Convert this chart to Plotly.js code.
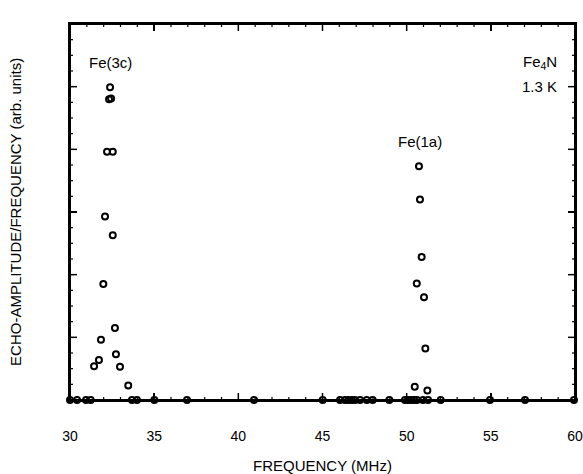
<!DOCTYPE html>
<html>
<head>
<meta charset="utf-8">
<script src="https://cdn.plot.ly/plotly-3.0.1.min.js"></script>
<style>html,body{margin:0;padding:0;background:#fff;overflow:hidden;}#chart{width:583px;height:474px;}</style>
</head>
<body>
<div id="chart"></div>
<script>
// Fe(3c) line points
const fe3cFreq = [32.38, 32.32, 32.44, 32.20, 32.54, 32.08, 32.54, 31.98, 32.67, 31.84, 31.72, 31.43, 32.73, 32.97, 33.46];
const fe3cAmp  = [4.99, 4.80, 4.81, 3.96, 3.96, 2.93, 2.63, 1.85, 1.15, 0.96, 0.64, 0.54, 0.73, 0.53, 0.23];
// Fe(1a) line points
const fe1aFreq = [50.73, 50.79, 50.89, 50.60, 51.03, 51.11, 50.48, 51.23];
const fe1aAmp  = [3.73, 3.20, 2.28, 1.86, 1.64, 0.82, 0.21, 0.15];
// zero-signal points along the baseline
const baseFreq = [30.0, 30.42, 30.95, 31.23, 33.68, 33.98, 35.01, 36.95, 40.93, 45.01, 46.04, 46.34, 46.53, 46.74, 46.93, 47.23, 47.63, 47.98, 48.97, 49.90, 50.08, 50.26, 50.44, 50.61, 50.97, 51.27, 52.02, 54.95, 57.03, 59.94];
const baseAmp  = baseFreq.map(() => 0);
const xTickVals = [30, 35, 40, 45, 50, 55, 60];
const yTickVals = [0, 1, 2, 3, 4, 5, 6];
const xRange = [30, 60];
const yRange = [0, 6];
const xMinorStep = 1;
const yMinorStep = 0.25;

function mk(){ return {symbol: 'circle-open', size: 6, color: '#000', line: {width: 2, color: '#000'}}; }
const traces = [
  {x: fe3cFreq, y: fe3cAmp, mode: 'markers', type: 'scatter', marker: mk(), cliponaxis: false},
  {x: fe1aFreq, y: fe1aAmp, mode: 'markers', type: 'scatter', marker: mk(), cliponaxis: false},
  {x: baseFreq, y: baseAmp, mode: 'markers', type: 'scatter', marker: mk(), cliponaxis: false}
];

// frame and tick marks drawn as shapes tied to the axis scales
const shapes = [{type: 'rect', xref: 'paper', yref: 'paper', x0: 0, x1: 1, y0: 0, y1: 1,
  line: {color: '#000', width: 2}, fillcolor: 'rgba(0,0,0,0)', layer: 'above'}];
function xTick(v, len, w){
  shapes.push({type: 'line', xref: 'x', yref: 'paper', ysizemode: 'pixel', yanchor: 0, x0: v, x1: v, y0: 0, y1: len, line: {color: '#000', width: w}, layer: 'above'});
  shapes.push({type: 'line', xref: 'x', yref: 'paper', ysizemode: 'pixel', yanchor: 1, x0: v, x1: v, y0: 0, y1: -len, line: {color: '#000', width: w}, layer: 'above'});
}
function yTick(v, len, w){
  shapes.push({type: 'line', xref: 'paper', yref: 'y', xsizemode: 'pixel', xanchor: 0, x0: 0, x1: len, y0: v, y1: v, line: {color: '#000', width: w}, layer: 'above'});
  shapes.push({type: 'line', xref: 'paper', yref: 'y', xsizemode: 'pixel', xanchor: 1, x0: 0, x1: -len, y0: v, y1: v, line: {color: '#000', width: w}, layer: 'above'});
}
for (let v = xRange[0] + xMinorStep; v < xRange[1]; v += xMinorStep) {
  if (xTickVals.indexOf(v) === -1) xTick(v, 3, 1.2);
}
xTickVals.slice(1, -1).forEach(v => xTick(v, 7, 1.5));
for (let i = 1; i < (yRange[1] - yRange[0]) / yMinorStep; i++) {
  const v = yRange[0] + i * yMinorStep;
  if (yTickVals.indexOf(v) === -1) yTick(v, 3, 1.2);
}
yTickVals.slice(1, -1).forEach(v => yTick(v, 7, 1.5));

const layout = {
  width: 583, height: 474,
  margin: {l: 70, r: 8, t: 24, b: 74},
  paper_bgcolor: '#fff', plot_bgcolor: '#fff',
  showlegend: false,
  font: {family: 'Liberation Sans, Arial, sans-serif', color: '#000', size: 15},
  xaxis: {
    range: xRange, tickvals: xTickVals,
    ticks: 'inside', ticklen: 7, tickwidth: 1.5, tickcolor: '#000',
    showline: true, linewidth: 2, linecolor: '#000', mirror: 'allticks',
    showgrid: false, zeroline: false,
    tickfont: {size: 14}, ticklabelstandoff: 22
  },
  yaxis: {
    range: yRange, tickvals: yTickVals, showticklabels: false,
    ticks: 'inside', ticklen: 7, tickwidth: 1.5, tickcolor: '#000',
    showline: true, linewidth: 2, linecolor: '#000', mirror: 'allticks',
    showgrid: false, zeroline: false
  },
  shapes: shapes,
  annotations: [
    {x: 0.5, y: -0.173, xref: 'paper', yref: 'paper', xanchor: 'center', yanchor: 'middle',
     text: 'FREQUENCY (MHz)', showarrow: false, font: {size: 15}},
    {x: -0.109, y: 0.5, xref: 'paper', yref: 'paper', xanchor: 'center', yanchor: 'middle', textangle: -90,
     text: 'ECHO-AMPLITUDE/FREQUENCY (arb. units)', showarrow: false, font: {size: 15}},
    {x: 32.4, y: 5.38, xref: 'x', yref: 'y', text: 'Fe(3c)', showarrow: false, font: {size: 15}},
    {x: 50.8, y: 4.12, xref: 'x', yref: 'y', text: 'Fe(1a)', showarrow: false, font: {size: 15}},
    {x: 57.9, y: 5.38, xref: 'x', yref: 'y', text: 'Fe<sub>4</sub>N', showarrow: false, font: {size: 15}},
    {x: 57.9, y: 5.0, xref: 'x', yref: 'y', text: '1.3 K', showarrow: false, font: {size: 15}}
  ]
};
Plotly.newPlot('chart', traces, layout, {displayModeBar: false, staticPlot: true});
</script>
</body>
</html>
